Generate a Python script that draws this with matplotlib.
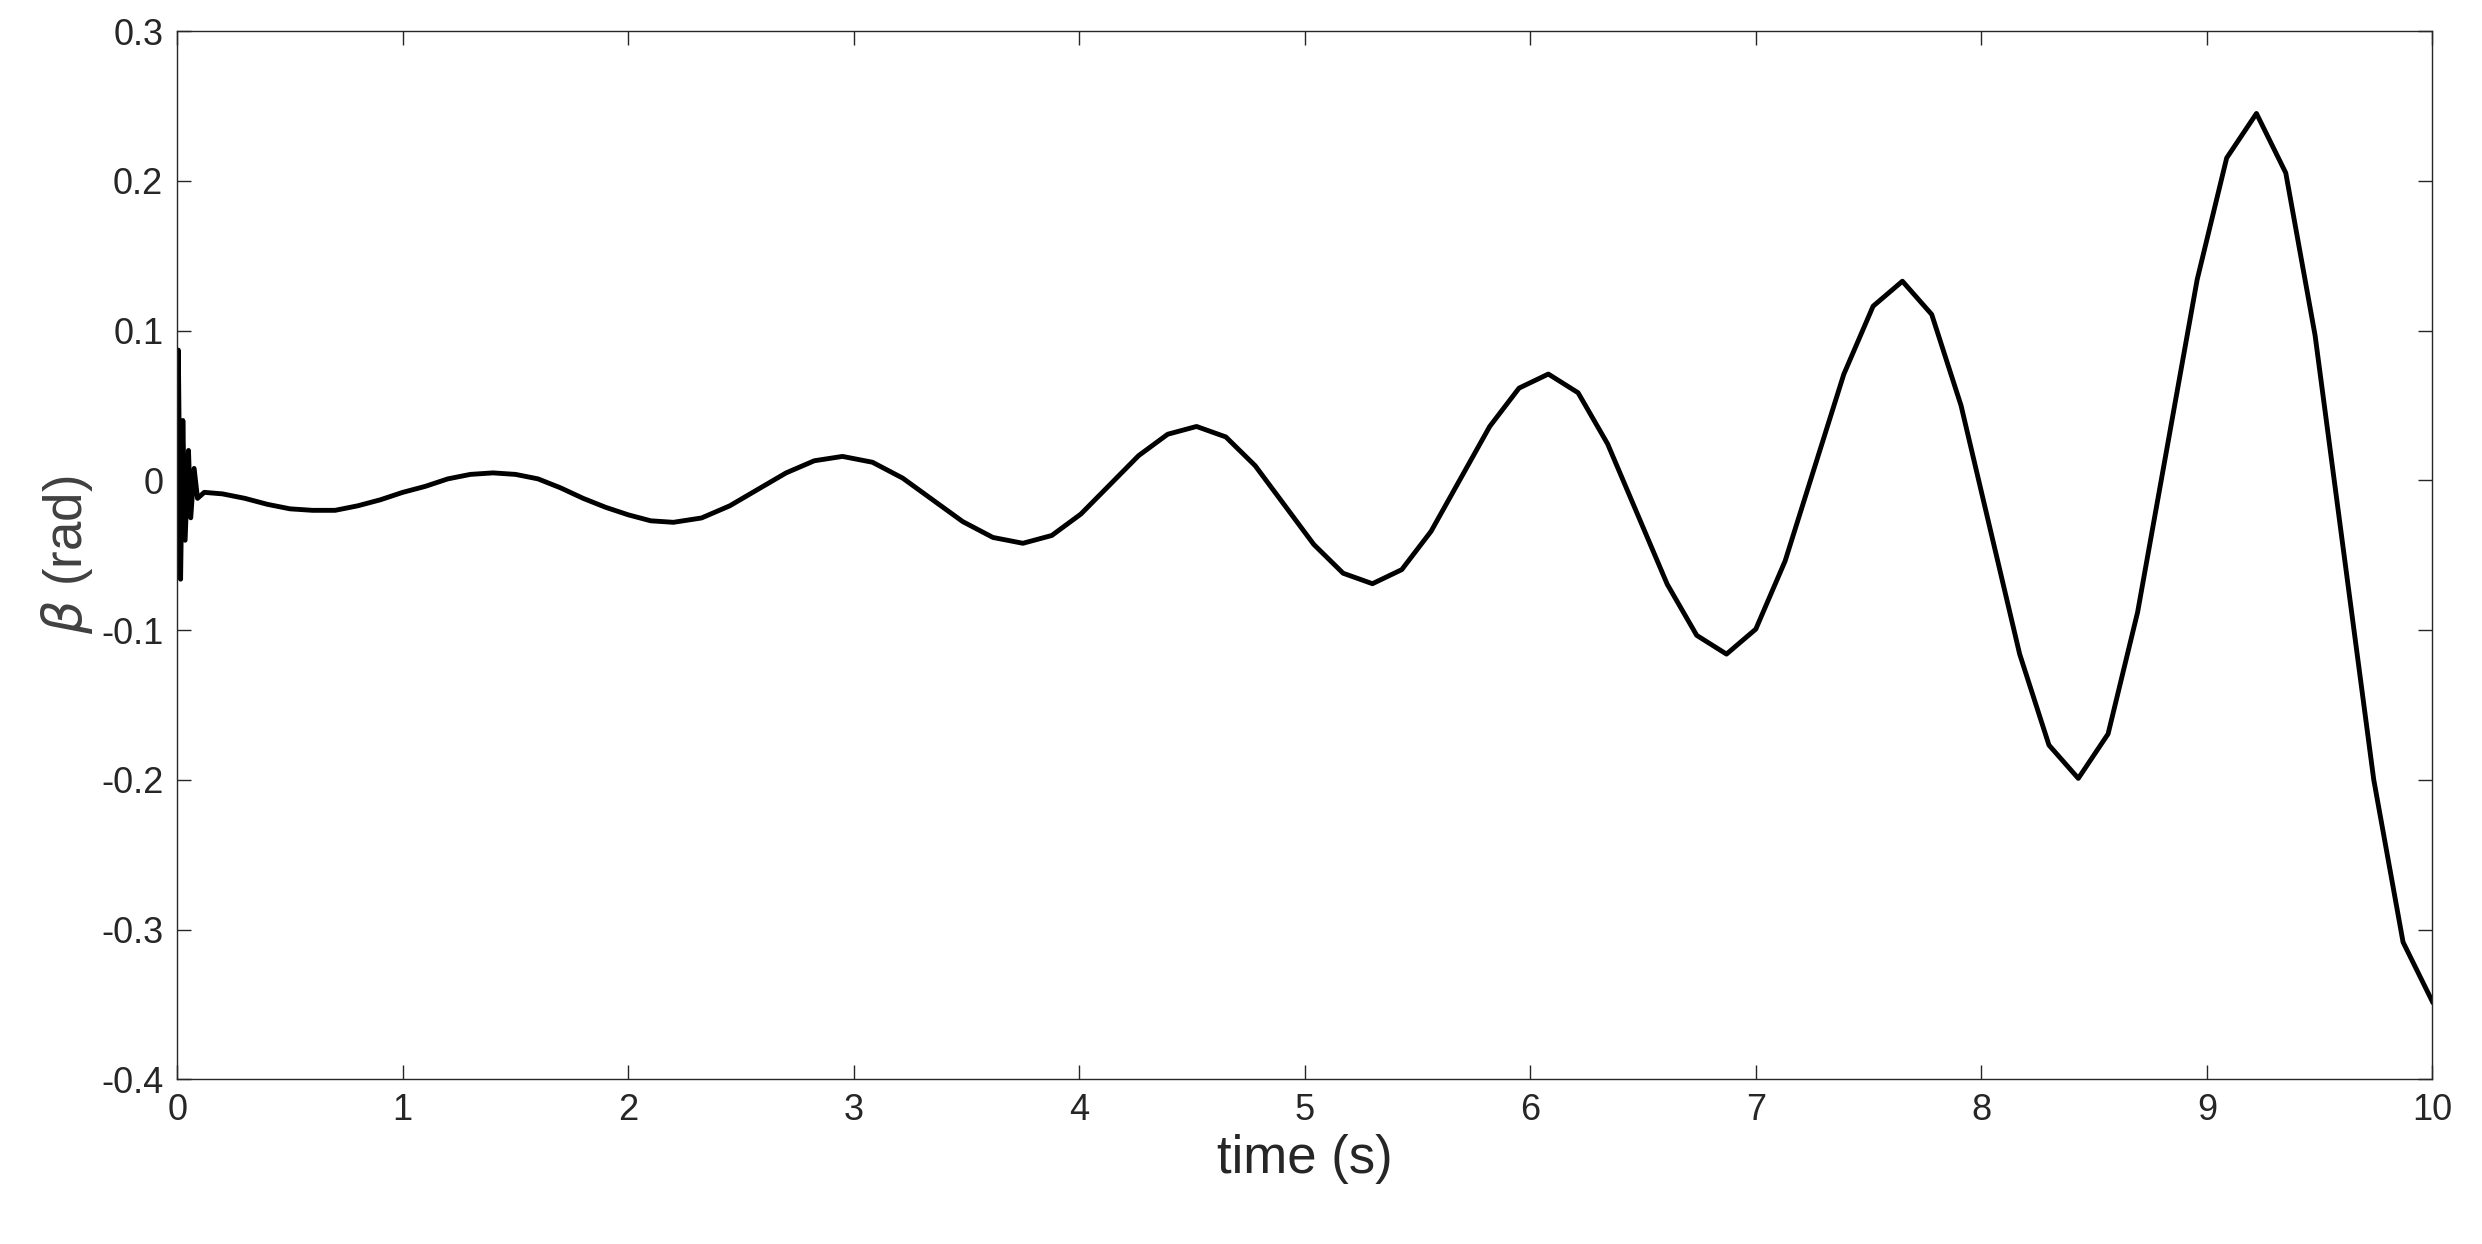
import matplotlib
matplotlib.use("Agg")
import matplotlib.pyplot as plt

plt.rcParams['font.family'] = ['Liberation Sans', 'DejaVu Sans']

# values
t = [0, 0.005, 0.015, 0.025, 0.035, 0.05, 0.06, 0.075, 0.09, 0.12, 0.2, 0.3, 0.4, 0.5,
     0.6, 0.7, 0.8, 0.9, 1.0, 1.1, 1.2, 1.3, 1.4, 1.5, 1.6, 1.7, 1.8, 1.9, 2.0, 2.1, 2.2,
     2.325, 2.45, 2.575, 2.7, 2.825, 2.95,
     3.083, 3.217, 3.35, 3.483, 3.617, 3.75,
     3.878, 4.007, 4.135, 4.263, 4.392, 4.52,
     4.65, 4.78, 4.91, 5.04, 5.17, 5.3,
     5.43, 5.56, 5.69, 5.82, 5.95, 6.08,
     6.212, 6.343, 6.475, 6.607, 6.738, 6.87,
     7.0, 7.13, 7.26, 7.39, 7.52, 7.65,
     7.78, 7.91, 8.04, 8.17, 8.3, 8.43,
     8.562, 8.693, 8.825, 8.957, 9.088, 9.22,
     9.35, 9.48, 9.61, 9.74, 9.87, 10.0]
beta = [0, 0.087, -0.066, 0.04, -0.04, 0.02, -0.025, 0.008, -0.012, -0.008, -0.009,
        -0.012, -0.016, -0.019, -0.02, -0.02, -0.017, -0.013, -0.008, -0.004, 0.001,
        0.004, 0.005, 0.004, 0.001, -0.005, -0.012, -0.018, -0.023, -0.027, -0.028,
        -0.0251, -0.017, -0.006, 0.005, 0.0131, 0.016,
        0.0121, 0.0015, -0.013, -0.0275, -0.0381, -0.042,
        -0.0368, -0.0225, -0.003, 0.0165, 0.0308, 0.036,
        0.029, 0.0098, -0.0165, -0.0428, -0.062, -0.069,
        -0.0596, -0.034, 0.001, 0.036, 0.0616, 0.071,
        0.0585, 0.0243, -0.0225, -0.0693, -0.1035, -0.116,
        -0.0993, -0.0538, 0.0085, 0.0708, 0.1163, 0.133,
        0.1108, 0.05, -0.033, -0.116, -0.1768, -0.199,
        -0.1693, -0.088, 0.023, 0.134, 0.2153, 0.245,
        0.2053, 0.0968, -0.0515, -0.1998, -0.3083, -0.348]

fig = plt.figure(figsize=(24.82, 12.44), dpi=100)
ax = fig.add_axes([0.0714, 0.1323, 0.9086, 0.8427])
ax.plot(t, beta, color='black', linewidth=3.5, solid_joinstyle='round')

ax.set_xlim(0, 10)
ax.set_ylim(-0.4, 0.3)
ax.set_xticks(range(0, 11))
ax.set_yticks([-0.4, -0.3, -0.2, -0.1, 0, 0.1, 0.2, 0.3])
ax.set_yticklabels(['-0.4', '-0.3', '-0.2', '-0.1', '0', '0.1', '0.2', '0.3'])
ax.tick_params(direction='in', top=True, right=True, length=10, width=1,
               labelsize=26, colors='#262626', pad=10)
for s in ax.spines.values():
    s.set_color('#262626')
    s.set_linewidth(1)

ax.set_xlabel('time (s)', fontsize=38, color='#262626')
ax.set_ylabel(r'$\beta$ (rad)', fontsize=38, color='#404040')

fig.savefig('out.png', dpi=100)
